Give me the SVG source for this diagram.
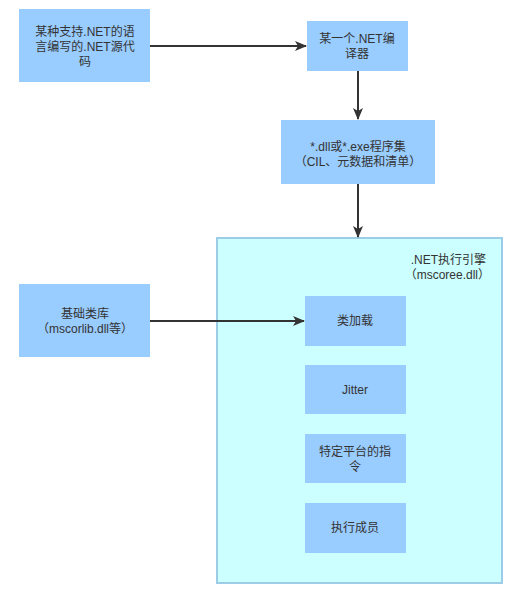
<svg xmlns="http://www.w3.org/2000/svg" width="526" height="598" viewBox="0 0 526 598">
<defs>
<style>
.n{fill:#99CCFF;stroke:none}
.t{font-family:"Liberation Sans","Noto Sans CJK SC",sans-serif;font-size:12px;fill:#333333;text-anchor:middle}
.c{stroke:#333333;stroke-width:2;fill:none}
</style>
<marker id="ah" markerWidth="12" markerHeight="10" refX="11" refY="5" orient="auto" markerUnits="userSpaceOnUse">
<path d="M0,0 L12,5 L0,10 L3,5 Z" fill="#333333"/>
</marker>
</defs>
<rect width="526" height="598" fill="#ffffff"/>
<g id="engine">
<rect x="217" y="238" width="285" height="345" fill="#CCFFFF" stroke="#9CCCE6" stroke-width="2"/>
<text class="t" x="486" y="264" style="text-anchor:end">.NET执行引擎</text>
<text class="t" x="490" y="279" style="text-anchor:end">（mscoree.dll）</text>
</g>
<g id="source">
<rect class="n" x="19" y="9" width="131" height="73"/>
<text class="t" x="85" y="36">某种支持.NET的语</text>
<text class="t" x="85" y="51">言编写的.NET源代</text>
<text class="t" x="85" y="66">码</text>
</g>
<g id="compiler">
<rect class="n" x="307" y="21" width="101" height="50"/>
<text class="t" x="357" y="43">某一个.NET编</text>
<text class="t" x="357" y="58">译器</text>
</g>
<g id="assembly">
<rect class="n" x="281" y="120" width="154" height="64"/>
<text class="t" x="358" y="151">*.dll或*.exe程序集</text>
<text class="t" x="358" y="166">（CIL、元数据和清单）</text>
</g>
<g id="bcl">
<rect class="n" x="19" y="284" width="131" height="73"/>
<text class="t" x="85" y="318">基础类库</text>
<text class="t" x="85" y="333">（mscorlib.dll等）</text>
</g>
<g id="classloader">
<rect class="n" x="305" y="296" width="101" height="50"/>
<text class="t" x="355" y="325">类加载</text>
</g>
<g id="jitter">
<rect class="n" x="305" y="365" width="101" height="49"/>
<text class="t" x="355" y="394">Jitter</text>
</g>
<g id="native">
<rect class="n" x="305" y="434" width="101" height="49"/>
<text class="t" x="355" y="456">特定平台的指</text>
<text class="t" x="355" y="471">令</text>
</g>
<g id="exec">
<rect class="n" x="305" y="503" width="101" height="50"/>
<text class="t" x="355" y="532">执行成员</text>
</g>
<g id="connectors">
<line class="c" x1="150" y1="46" x2="306" y2="46" marker-end="url(#ah)"/>
<line class="c" x1="358" y1="71" x2="358" y2="119" marker-end="url(#ah)"/>
<line class="c" x1="358" y1="184" x2="358" y2="237" marker-end="url(#ah)"/>
<line class="c" x1="150" y1="321" x2="304" y2="321" marker-end="url(#ah)"/>
</g>
</svg>
